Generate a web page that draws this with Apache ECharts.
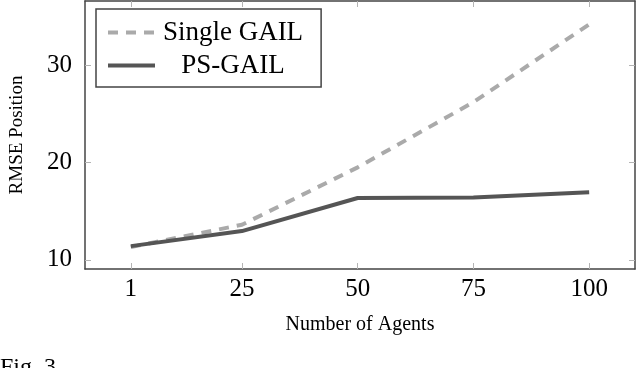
<!DOCTYPE html>
<html>
<head>
<meta charset="utf-8">
<script src="https://cdn.jsdelivr.net/npm/echarts@6/dist/echarts.min.js"></script>
<style>
  html, body { margin: 0; padding: 0; background: #fff; }
  #chart { width: 636px; height: 368px; }
</style>
</head>
<body>
<div id="chart"></div>
<script>
  const agents = [1, 25, 50, 75, 100];
  const singleGail = [11.3, 13.6, 19.5, 26.2, 34.2];
  const psGail = [11.4, 12.95, 16.35, 16.4, 16.95];
  const xTicks = [1, 25, 50, 75, 100];
  const yTicks = [10, 20, 30];

  const serif = 'Liberation Serif';
  const frame = '#444';
  const tickCol = '#b4b4b4';

  const pairs = ys => agents.map((a, i) => [a, ys[i]]);
  const tickText = {a: {fontFamily: serif, fontSize: 25, color: '#000'}};

  const xBase = (show) => ({
    type: 'value', min: -8.9, max: 109.9,
    axisLine: {show: true, onZero: false, lineStyle: {color: frame, width: 1.5}},
    axisTick: {show: true, inside: true, length: 6, customValues: xTicks, lineStyle: {color: tickCol, width: 1}},
    axisLabel: {show: show, customValues: xTicks, fontFamily: serif, fontSize: 25, color: '#000', margin: 8,
      formatter: v => '{a|' + v + '}', rich: tickText},
    splitLine: {show: false}
  });
  const yBase = (show) => ({
    type: 'value', min: 9.05, max: 36.6,
    axisLine: {show: true, onZero: false, lineStyle: {color: frame, width: 1.5}},
    axisTick: {show: true, inside: true, length: 6, customValues: yTicks, lineStyle: {color: tickCol, width: 1}},
    axisLabel: {show: show, customValues: yTicks, fontFamily: serif, fontSize: 25, color: '#000', margin: 13,
      formatter: v => '{a|' + v + '}', rich: tickText},
    splitLine: {show: false}
  });

  const chart = echarts.init(document.getElementById('chart'));
  chart.setOption({
    animation: false,
    textStyle: {fontFamily: serif},
    grid: {left: 79, right: 1, top: 1, bottom: 99, containLabel: false},
    xAxis: [
      Object.assign(xBase(true), {
        position: 'bottom',
        name: 'Number of Agents', nameLocation: 'middle', nameGap: 46,
        nameTextStyle: {fontFamily: serif, fontSize: 20, color: '#000'}
      }),
      Object.assign(xBase(false), {position: 'top'})
    ],
    yAxis: [
      Object.assign(yBase(true), {
        position: 'left',
        name: 'RMSE Position', nameLocation: 'middle', nameGap: 58,
        nameTextStyle: {fontFamily: serif, fontSize: 19, color: '#000'}
      }),
      Object.assign(yBase(false), {position: 'right'})
    ],
    legend: {
      orient: 'vertical',
      left: 96, top: 9,
      padding: [10, 18, 8, 10],
      itemGap: 6,
      itemWidth: 47, itemHeight: 27,
      borderColor: frame, borderWidth: 1.5,
      backgroundColor: '#fff',
      itemStyle: {opacity: 0},
      lineStyle: {width: 4},
      formatter: n => '{t|' + n + '}',
      textStyle: {
        fontFamily: serif, fontSize: 27, color: '#000',
        rich: {t: {fontFamily: serif, fontSize: 27, width: 146, align: 'center'}}
      },
      data: ['Single GAIL', 'PS-GAIL']
    },
    graphic: [{
      type: 'text', left: 0, top: 356,
      style: {text: 'Fig. 3', font: "24px 'Liberation Serif'", fill: '#000'}
    }],
    series: [{
      name: 'Single GAIL', type: 'line', data: pairs(singleGail),
      showSymbol: false, symbol: 'none',
      lineStyle: {color: '#aaaaaa', width: 4, type: [10, 8]},
      itemStyle: {color: '#aaaaaa'}
    }, {
      name: 'PS-GAIL', type: 'line', data: pairs(psGail),
      showSymbol: false, symbol: 'none',
      lineStyle: {color: '#555555', width: 4},
      itemStyle: {color: '#555555'}
    }]
  });
</script>
</body>
</html>
